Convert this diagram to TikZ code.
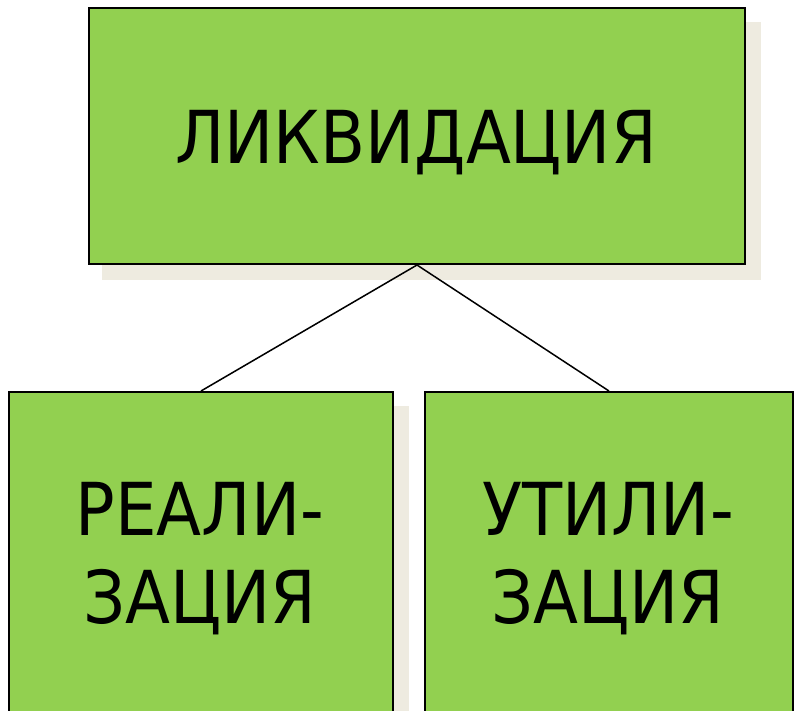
\documentclass[tikz,border=0pt]{standalone}
\usepackage{fontspec}
\setmainfont{DejaVu Sans Condensed}
\definecolor{boxgreen}{HTML}{92D050}
\definecolor{shadowc}{HTML}{EEEBE0}
\begin{document}
\begin{tikzpicture}[x=1pt,y=-1pt,
  box/.style={draw=black,line width=2pt,fill=boxgreen,rectangle,inner sep=0pt},
  shade/.style={fill=shadowc,draw=none},
  lbl/.style={font=\fontsize{73}{88}\selectfont,align=center,inner sep=0pt}]
\useasboundingbox (0,0) rectangle (794,710);
\begin{scope}
\clip (0,0) rectangle (794,710);
% shadows
\fill[shade] (102,22) rectangle (761,280);
\fill[shade] (24,406) rectangle (409,760);
\fill[shade] (440,406) rectangle (809,760);
% boxes
\node[box,minimum width=656pt,minimum height=256pt,anchor=north west] (top) at (88,7) {};
\node[box,minimum width=384pt,minimum height=340pt,anchor=north west] (left) at (8,391) {};
\node[box,minimum width=368pt,minimum height=340pt,anchor=north west] (right) at (424,391) {};
\end{scope}
\node[lbl,anchor=base] (t1) at (416,163) {ЛИКВИДАЦИЯ};
\node[lbl,anchor=base] (t2) at (200,535) {РЕАЛИ-};
\node[lbl,anchor=base] (t3) at (200,623) {ЗАЦИЯ};
\node[lbl,anchor=base] (t4) at (608,535) {УТИЛИ-};
\node[lbl,anchor=base] (t5) at (608,623) {ЗАЦИЯ};
\draw[line width=1.5pt] (top.south) -- (left.north);
\draw[line width=1.5pt] (top.south) -- (right.north);
\end{tikzpicture}
\end{document}
